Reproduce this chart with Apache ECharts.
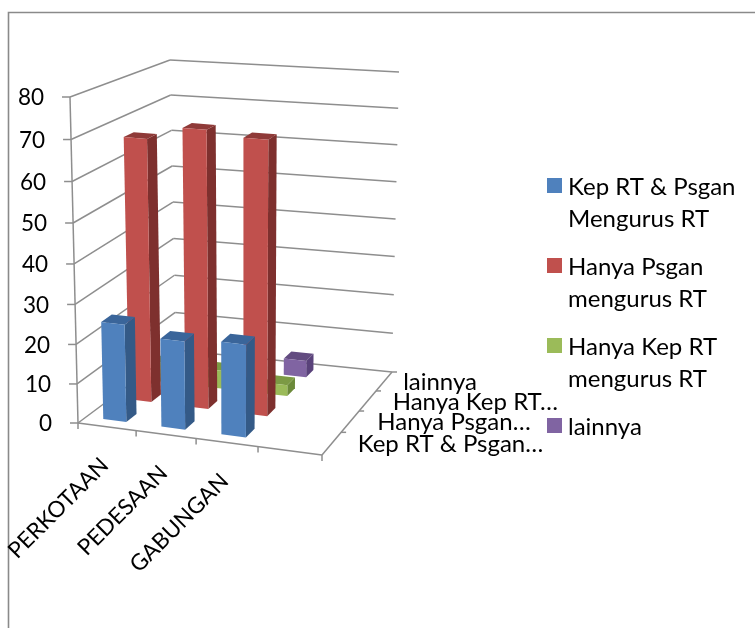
<!DOCTYPE html>
<html>
<head>
<meta charset="utf-8">
<style>html,body{margin:0;padding:0;background:#fff}#chart{width:755px;height:628px}</style>
<script src="https://cdn.jsdelivr.net/npm/echarts@6/dist/echarts.min.js"></script>
</head>
<body>
<div id="chart"></div>
<script>
// Household-care survey: categories along the front edge, series along the depth axis.
const categories = ['PERKOTAAN', 'PEDESAAN', 'GABUNGAN', ''];
const valueTicks = [0, 10, 20, 30, 40, 50, 60, 70, 80];
const depthLabels = ['Kep RT & Psgan…', 'Hanya Psgan…', 'Hanya Kep RT…', 'lainnya'];

const kepPsgan = [24.7, 22.2, 23.2];
const hanyaPsgan = [67, 70.5, 69.3];
const hanyaKep = [5, 4.6, 2.8];
const lainnya = [0, 0, 4.2];

const seriesNames = ['Kep RT & Psgan Mengurus RT', 'Hanya Psgan mengurus RT', 'Hanya Kep RT mengurus RT', 'lainnya'];
const legendLines = [['Kep RT & Psgan', 'Mengurus RT'], ['Hanya Psgan', 'mengurus RT'], ['Hanya Kep RT', 'mengurus RT'], ['lainnya', ' ']];
const seriesValues = [kepPsgan, hanyaPsgan, hanyaKep, lainnya];
const palette = [
  { front: '#4F81BD', side: '#345A87', top: '#3A659A' },
  { front: '#C0504D', side: '#7E302E', top: '#8F3A38' },
  { front: '#9BBB59', side: '#6C8A3A', top: '#7C9A44' },
  { front: '#8064A2', side: '#59427A', top: '#624B80' }
];

const FONT = 'Lato, "Open Sans", sans-serif';
const LINE = '#8e8e8e';

// Scene frame: corners of the plot box on screen.
const corner = {
  floor: { fl: [78, 423], fr: [322, 455], bl: [176, 350], br: [392, 372] },
  roof: { fl: [70, 97], fr: [327, 119], bl: [170, 60], br: [399, 72] }
};
const PERSPECTIVE_U = 1.066;
const PERSPECTIVE_W = 0.887;
const PERSPECTIVE_H_FRONT = 1.05;
const PERSPECTIVE_H_BACK = 0.96;
const BAR_FRACTION = 0.4;

// Hidden scale box: the library's axes resolve category and value into it.
const box = { left: 100, top: 100, width: 400, height: 400 };

const warp = (t, k) => t / (t + k * (1 - t));
const lerp = (a, b, t) => [a[0] + (b[0] - a[0]) * t, a[1] + (b[1] - a[1]) * t];

// u: along the categories, w: depth, h: height, all in 0..1.
function project(u, w, h) {
  const su = warp(u, PERSPECTIVE_U), sw = warp(w, PERSPECTIVE_W);
  const plane = p => lerp(lerp(p.fl, p.fr, su), lerp(p.bl, p.br, su), sw);
  const sh = warp(h, PERSPECTIVE_H_FRONT + (PERSPECTIVE_H_BACK - PERSPECTIVE_H_FRONT) * sw);
  return lerp(plane(corner.floor), plane(corner.roof), sh);
}

// Convert data coordinates to box fractions through the axis scales.
function fractions(api, catPos, value) {
  const band = api.size([1, 0])[0];
  const c = api.coord([catPos, value]);
  return { u: (c[0] - band / 2 - box.left) / box.width, h: (box.top + box.height - c[1]) / box.height, bandU: band / box.width };
}

function uOf(api, cat, offset) {
  const f = fractions(api, cat, 0);
  return f.u + f.bandU * offset;
}
function hOf(api, value) {
  return fractions(api, 0, value).h;
}

const poly = (pts, style) => ({ type: 'polygon', shape: { points: pts }, style: style, silent: true });
const seg = (a, b) => ({ type: 'line', shape: { x1: a[0], y1: a[1], x2: b[0], y2: b[1] }, style: { stroke: LINE, lineWidth: 1.5, fill: null }, silent: true });
const label = (x, y, text, size, align, rotation) => ({
  type: 'text', x: x, y: y, rotation: rotation || 0, silent: true,
  style: { text: text, fill: '#000', font: size + 'px ' + FONT, align: align, verticalAlign: 'middle' }
});

function renderFrame(params, api) {
  const kids = [];
  const d = depthLabels.length;
  valueTicks.forEach(t => {
    const h = hOf(api, t);
    const a = project(0, 0, h), b = project(0, 1, h), c = project(1, 1, h);
    kids.push(seg(a, b), seg(b, c), seg(a, [a[0] - 8, a[1]]));
    kids.push(label(a[0] - 26, a[1] + 1, String(t), 22.5, 'right'));
  });
  kids.push(seg(project(0, 0, 0), project(0, 0, 1)));
  kids.push(seg(project(0, 0, 0), project(1, 0, 0)));
  kids.push(seg(project(1, 0, 0), project(1, 1, 0)));
  categories.forEach((name, i) => {
    const p = project(uOf(api, i, 0), 0, 0);
    kids.push(seg(p, [p[0], p[1] + 6]));
    if (name) {
      const m = project(uOf(api, i, 0.5), 0, 0);
      kids.push(label(m[0] - 2, m[1] + 35, name, 22.5, 'right', Math.PI / 4));
    }
  });
  const endTick = project(uOf(api, categories.length - 1, 1), 0, 0);
  kids.push(seg(endTick, [endTick[0], endTick[1] + 6]));
  const labelGap = [26, 27, 25, 19];
  for (let k = 0; k <= d; k++) {
    const p = project(1, k / d, 0);
    if (k > 0) kids.push(seg(p, [p[0] + 5, p[1]]));
    if (k < d) {
      const m = project(1, (k + 0.5) / d, 0);
      kids.push(label(m[0] + labelGap[k], m[1] + 1, depthLabels[k], 24, 'left'));
    }
  }
  return { type: 'group', children: kids };
}

function renderBar(seriesIdx) {
  return function (params, api) {
    const cat = api.value(0), val = api.value(1);
    if (!val) return null;
    const pad = (1 - BAR_FRACTION) / 2;
    const u0 = uOf(api, cat, pad), u1 = uOf(api, cat, 1 - pad);
    const d = depthLabels.length;
    const w0 = (seriesIdx + pad) / d, w1 = (seriesIdx + 1 - pad) / d;
    const h = hOf(api, val);
    const col = palette[seriesIdx];
    return {
      type: 'group',
      children: [
        poly([project(u1, w0, 0), project(u1, w1, 0), project(u1, w1, h), project(u1, w0, h)], { fill: col.side }),
        poly([project(u0, w0, h), project(u1, w0, h), project(u1, w1, h), project(u0, w1, h)], { fill: col.top }),
        poly([project(u0, w0, 0), project(u1, w0, 0), project(u1, w0, h), project(u0, w0, h)], { fill: col.front })
      ]
    };
  };
}

// Legend icon: a square in the first text line of a two-line cell.
const LEGEND_ICON = 'path://M0 0h.01v.01zM0 7H15V22H0ZM15 64h-.01v-.01z';

// Series are added from the back of the box forward so nearer bars paint last.
const barSeries = seriesNames.map((name, i) => ({ name, i })).reverse().map(s => ({
  type: 'custom',
  name: s.name,
  coordinateSystem: 'cartesian2d',
  clip: false,
  silent: true,
  z: 5 + (3 - s.i),
  itemStyle: { color: palette[s.i].front },
  encode: { x: 0, y: 1 },
  renderItem: renderBar(s.i),
  data: seriesValues[s.i].map((v, c) => [c, v])
}));

const chart = echarts.init(document.getElementById('chart'), null, { renderer: 'canvas' });
chart.setOption({
  animation: false,
  backgroundColor: '#ffffff',
  tooltip: { show: false },
  grid: { left: box.left, top: box.top, width: box.width, height: box.height },
  xAxis: { type: 'category', data: categories, show: false, boundaryGap: true },
  yAxis: { type: 'value', min: 0, max: 80, interval: 10, show: false },
  legend: {
    left: 547, top: 171, orient: 'vertical', selectedMode: false,
    itemWidth: 15, itemHeight: 64, itemGap: 16, padding: 0,
    icon: LEGEND_ICON,
    data: seriesNames,
    formatter: name => legendLines[seriesNames.indexOf(name)].join('\n'),
    textStyle: { fontFamily: FONT, fontSize: 24, color: '#000', lineHeight: 32, padding: [0, 0, 0, 1] },
    itemStyle: { borderWidth: 0 }
  },
  graphic: [{
    type: 'polyline', silent: true, z: 0,
    shape: { points: [[755, 12.5], [8.5, 12.5], [8.5, 628]] },
    style: { stroke: '#8a8a8a', lineWidth: 1.6, fill: null }
  }],
  series: [{
    type: 'custom', name: 'frame', coordinateSystem: 'cartesian2d', clip: false, silent: true, z: 2,
    encode: { x: 0, y: 1 },
    renderItem: renderFrame,
    data: [[0, 0]]
  }].concat(barSeries)
});
</script>
</body>
</html>
